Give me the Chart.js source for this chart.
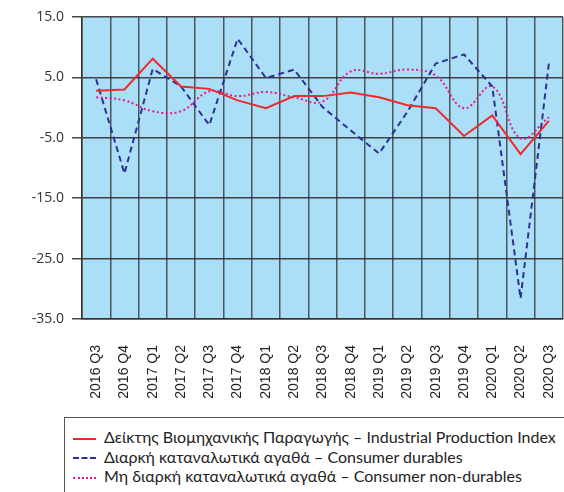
<!DOCTYPE html>
<html lang="el">
<head>
<meta charset="UTF-8">
<title>Industrial production</title>
<script src="https://cdn.jsdelivr.net/npm/chart.js@4.4.0/dist/chart.umd.min.js"></script>
<style>
  body { margin: 0; background: #fff; }
  .wrap { position: relative; width: 564px; height: 492px; overflow: hidden; }
  #legend {
    position: absolute; left: 64px; top: 417px; width: 520px; height: 90px;
    border: 1px solid #555; font-family: Lato, sans-serif; font-size: 16px; color: #222;
    padding-top: 9px; box-sizing: border-box;
  }
  #legend div { height: 19.5px; line-height: 19.5px; white-space: nowrap; }
  #legend span.s { display: inline-block; width: 23px; margin: 0 8px 0 8px; vertical-align: middle; height: 0; }
</style>
</head>
<body>
<div class="wrap">
  <canvas id="canvas" width="564" height="412"></canvas>
  <div id="legend"></div>
</div>
<script>
const quarters = ['2016 Q3', '2016 Q4', '2017 Q1', '2017 Q2', '2017 Q3', '2017 Q4', '2018 Q1', '2018 Q2', '2018 Q3',
  '2018 Q4', '2019 Q1', '2019 Q2', '2019 Q3', '2019 Q4', '2020 Q1', '2020 Q2', '2020 Q3'];

const industrial = [2.8, 3.0, 8.1, 3.5, 3.1, 1.2, -0.1, 1.9, 1.9, 2.5, 1.7, 0.4, -0.1, -4.7, -1.3, -7.7, -2.2];
const durables = [4.7, -10.9, 6.4, 3.5, -2.9, 11.4, 4.9, 6.3, 0.1, -3.8, -7.6, -0.7, 7.3, 8.8, 3.5, -31.6, 7.3];
const nonDurables = [1.7, 1.2, -0.6, -0.6, 2.7, 1.9, 2.6, 1.7, 1.0, 6.0, 5.6, 6.3, 5.3, -0.1, 3.5, -5.1, -1.6];

const seriesNames = [
  'Δείκτης Βιομηχανικής Παραγωγής – Industrial Production Index',
  'Διαρκή καταναλωτικά αγαθά – Consumer durables',
  'Μη διαρκή καταναλωτικά αγαθά – Consumer non-durables'
];
const yTicks = [15, 5, -5, -15, -25, -35];

// light blue plot background
const plotBg = {
  id: 'plotBg',
  beforeDraw(chart) {
    const a = chart.chartArea, ctx = chart.ctx;
    ctx.save();
    ctx.fillStyle = '#abdff8';
    ctx.fillRect(a.left, a.top, a.right - a.left, a.bottom - a.top);
    ctx.restore();
  }
};

const styles = [
  { color: '#ee2a2a', dash: [], tension: 0, css: '2px solid #ee2a2a' },
  { color: '#2e3192', dash: [6, 4], tension: 0, css: '2px dashed #2e3192' },
  { color: '#e8198b', dash: [2, 2.5], tension: 0.4, css: '2px dotted #e8198b' }
];
const allData = [industrial, durables, nonDurables];

var ctx = document.getElementById('canvas').getContext('2d');
var myChart = new Chart(ctx, {
  type: 'line',
  data: {
    labels: quarters,
    datasets: allData.map(function (d, i) {
      return {
        label: seriesNames[i],
        data: d,
        borderColor: styles[i].color,
        borderDash: styles[i].dash,
        borderWidth: 2,
        tension: styles[i].tension,
        pointRadius: 0,
        fill: false
      };
    })
  },
  options: {
    responsive: false,
    animation: false,
    layout: { padding: { top: 17, right: 1, left: 0, bottom: 0 } },
    plugins: { legend: { display: false }, tooltip: { enabled: false } },
    scales: {
      x: {
        offset: true,
        afterFit: function (scale) { scale.height = 93; scale.paddingRight = 0; scale.paddingLeft = 0; },
        grid: { offset: true, color: 'rgba(40,40,40,0.75)', lineWidth: 1.5, drawTicks: false },
        border: { color: '#333', width: 1.5 },
        ticks: {
          minRotation: 90, maxRotation: 90, padding: 26, autoSkip: false,
          color: '#222', font: { family: 'Liberation Sans', size: 14 }
        }
      },
      y: {
        min: -35, max: 15,
        afterBuildTicks: function (scale) { scale.ticks = yTicks.map(function (v) { return { value: v }; }); },
        afterFit: function (scale) { scale.width = 82; },
        grid: { color: 'rgba(40,40,40,0.85)', lineWidth: 1.5, tickLength: 10 },
        border: { color: '#333', width: 1.5 },
        ticks: {
          padding: 8, color: '#333', font: { family: 'Open Sans', size: 14 },
          callback: function (v) { return Number(v).toFixed(1); }
        }
      }
    }
  },
  plugins: [plotBg]
});

var legend = document.getElementById('legend');
seriesNames.forEach(function (name, i) {
  var row = document.createElement('div');
  var s = document.createElement('span');
  s.className = 's';
  s.style.borderTop = styles[i].css;
  row.appendChild(s);
  row.appendChild(document.createTextNode(name));
  legend.appendChild(row);
});
</script>
</body>
</html>
